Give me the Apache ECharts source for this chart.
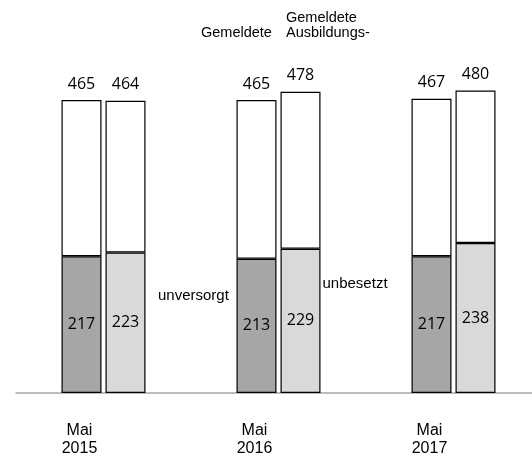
<!DOCTYPE html>
<html>
<head>
<meta charset="utf-8">
<script src="https://cdn.jsdelivr.net/npm/echarts@6/dist/echarts.min.js"></script>
<style>html,body{margin:0;padding:0;background:#fff}#wrap{position:relative;width:532px;height:458px;overflow:hidden}#c{position:absolute;left:0;top:0;width:541px;height:458px}</style>
</head>
<body>
<div id="wrap"><div id="c"></div></div>
<script>
const categories = ['Mai\n2015', 'Mai\n2016', 'Mai\n2017'];
const bewerber = [465, 465, 467];
const unversorgt = [217, 213, 217];
const stellen = [464, 478, 480];
const unbesetzt = [223, 229, 238];

const numFont = {fontFamily: 'Open Sans', fontSize: 16, color: '#000'};
const bar = {barWidth: 40, barGap: '10%'};
const border = {borderColor: '#000', borderWidth: 1.2};

const chart = echarts.init(document.getElementById('c'), null, {renderer: 'canvas'});
chart.setOption({
  animation: false,
  backgroundColor: '#fff',
  grid: {left: 16, right: 0, top: 15, bottom: 59.5},
  xAxis: {
    type: 'category', data: categories,
    axisLine: {lineStyle: {color: '#a6a6a6', width: 1.5}},
    axisTick: {show: false},
    axisLabel: {fontFamily: 'Liberation Sans', fontSize: 16, color: '#000', lineHeight: 18.5,
      margin: 28, padding: [0, 48, 0, 0], interval: 0}
  },
  yAxis: {type: 'value', min: 0, max: 600, show: false, splitLine: {show: false}},
  series: [
    Object.assign({type: 'bar', name: 'unversorgt', stack: 'b', data: unversorgt,
      itemStyle: Object.assign({color: '#a6a6a6'}, border),
      label: Object.assign({show: true, position: 'inside'}, numFont)}, bar),
    Object.assign({type: 'bar', name: 'Bewerber', stack: 'b',
      data: bewerber.map((v, i) => v - unversorgt[i]),
      itemStyle: Object.assign({color: '#fff'}, border),
      label: Object.assign({show: true, position: 'top', distance: 8,
        formatter: p => String(bewerber[p.dataIndex])}, numFont)}, bar),
    Object.assign({type: 'bar', name: 'unbesetzt', stack: 's', data: unbesetzt,
      itemStyle: Object.assign({color: '#d9d9d9'}, border),
      label: Object.assign({show: true, position: 'inside'}, numFont)}, bar),
    Object.assign({type: 'bar', name: 'Stellen', stack: 's',
      data: stellen.map((v, i) => v - unbesetzt[i]),
      itemStyle: Object.assign({color: '#fff'}, border),
      label: Object.assign({show: true, position: 'top', distance: 8,
        formatter: p => String(stellen[p.dataIndex])}, numFont)}, bar)
  ],
  graphic: [
    {type: 'text', x: 201, y: 32.5, style: {text: 'Gemeldete', font: '14.5px "Liberation Sans"', fill: '#000', verticalAlign: 'middle'}},
    {type: 'text', x: 286, y: 18.2, style: {text: 'Gemeldete', font: '14.5px "Liberation Sans"', fill: '#000', verticalAlign: 'middle'}},
    {type: 'text', x: 286, y: 32.6, style: {text: 'Ausbildungs-', font: '14.5px "Liberation Sans"', fill: '#000', verticalAlign: 'middle'}},
    {type: 'text', x: 158, y: 295.5, style: {text: 'unversorgt', font: '15px "Liberation Sans"', fill: '#000', verticalAlign: 'middle'}},
    {type: 'text', x: 322.5, y: 284, style: {text: 'unbesetzt', font: '15px "Liberation Sans"', fill: '#000', verticalAlign: 'middle'}}
  ]
});
</script>
</body>
</html>
